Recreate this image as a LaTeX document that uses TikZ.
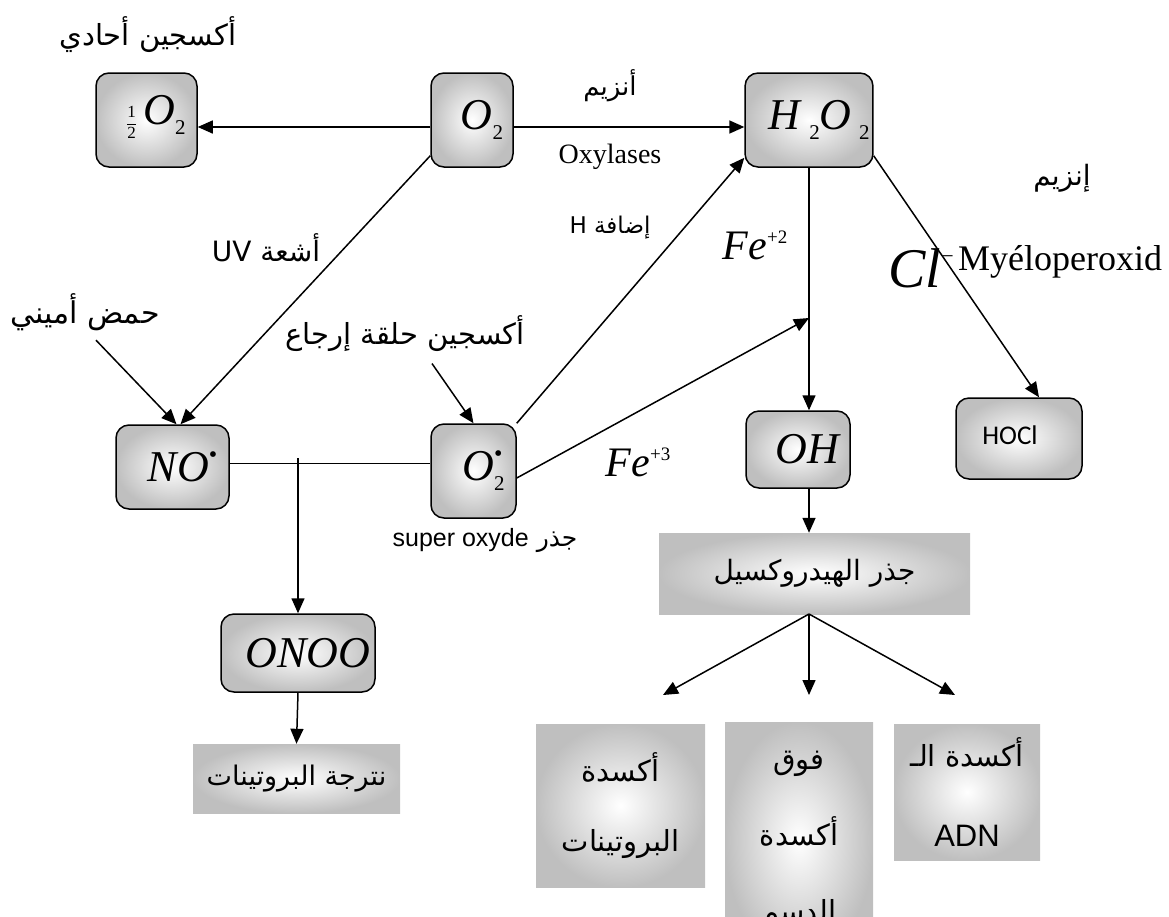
\documentclass[tikz,border=0pt]{standalone}
\usepackage{fontspec}
\setmainfont{Liberation Serif}
\setsansfont{Liberation Sans}
\newfontfamily\arfont[Script=Arabic]{DejaVu Sans}
\newfontfamily\calfont{Carlito}
\TeXXeTstate=1
\usetikzlibrary{arrows.meta}
\newcommand\chsub[1]{\raisebox{-10pt}{\fontsize{21}{21}\selectfont #1}}
\newcommand\chsup[1]{\raisebox{16pt}{\fontsize{19}{19}\selectfont #1}}
\newcommand\chdot{\raisebox{19pt}{\fontsize{24}{24}\selectfont •}}
\newcommand\chhalf{\raisebox{-4pt}{\fontsize{17}{19}\selectfont\begin{tabular}{@{}c@{}}1\\[1pt]\hline\rule{0pt}{14pt}2\end{tabular}}}
\tikzset{
  cbox/.style={draw,line width=1.5pt,rounded corners=13pt,inner color=white,outer color=black!25},
  rbox/.style={cbox,font=\fontsize{44}{44}\selectfont,execute at begin node=\hspace*{20pt}},
  sbox/.style={inner color=white,outer color=black!25,align=center},
  arr/.style={line width=1.5pt,-{Triangle[length=15pt,width=13pt]}},
  link/.style={line width=1pt},
  ar/.style={font=\arfont\fontsize{28}{30}\selectfont},
}

\begin{document}
\begin{tikzpicture}[x=1pt,y=-1pt]
  \useasboundingbox (0,0) rectangle (1169,916);

  \draw (146.5,120) node[rbox,minimum width=101pt,minimum height=94pt] (half) {\chhalf\,\textit{O}\chsub{2}};
  \draw (472,120) node[rbox,minimum width=82pt,minimum height=94pt] (o) {\textit{O}\chsub{2}};
  \draw (809,120) node[rbox,minimum width=124pt,minimum height=94pt] (hp) {\textit{H}\,\chsub{2}\textit{O}\,\chsub{2}};
  \draw (172.5,467) node[rbox,minimum width=113pt,minimum height=84pt] (no) {\textit{NO}\chdot};
  \draw (473.5,471) node[rbox,minimum width=85pt,minimum height=94pt] (os) {\textit{O}\rlap{\chdot}\chsub{2}};
  \draw (798,449.5) node[rbox,minimum width=104pt,minimum height=77pt] (oh) {\textit{OH}};
  \draw (1019,438.5) node[cbox,minimum width=126pt,minimum height=81pt,font=\calfont\fontsize{27}{27}\selectfont,execute at begin node=\hspace*{-18pt}] (hocl) {\raisebox{6pt}{HOCl}};
  \draw (298,653) node[rbox,minimum width=154pt,minimum height=78pt] (onoo) {\textit{ONOO}};
  \draw (296.5,778.5) node[sbox,ar,font=\arfont\fontsize{27}{30}\selectfont,minimum width=207pt,minimum height=69pt] (nit) {\beginR نترجة البروتينات\endR};
  \draw (814.5,573.5) node[sbox,ar,minimum width=311pt,minimum height=81pt] (hyd) {\beginR جذر الهيدروكسيل\endR};
  \draw (620.5,805.5) node[sbox,ar,font=\arfont\fontsize{29}{70}\selectfont,minimum width=169pt,minimum height=163pt] (ox1) {\beginR أكسدة\endR\\\beginR البروتينات\endR};
  \draw (799,840) node[sbox,ar,font=\arfont\fontsize{29}{76}\selectfont,minimum width=148pt,minimum height=236pt] (ox2) {\beginR فوق\endR\\\beginR أكسدة\endR\\\beginR الدسم\endR};
  \draw (967,792) node[sbox,ar,font=\arfont\fontsize{29}{66}\selectfont,minimum width=146pt,minimum height=136pt] (ox3) {\beginR أكسدة الـ\endR\\[14pt]{\sffamily\fontsize{31}{31}\selectfont ADN}};

  \draw (148,35) node[ar,font=\arfont\fontsize{29}{30}\selectfont] (single) {\beginR أكسجين أحادي\endR};
  \draw (610,86) node[ar,font=\arfont\fontsize{26}{30}\selectfont] (enz) {\beginR أنزيم\endR};
  \draw (610,157) node[font=\fontsize{28}{28}\selectfont] (oxy) {Oxylases};
  \draw (1062,178) node[ar,font=\arfont\fontsize{28}{30}\selectfont] (enz2) {\beginR إنزيم\endR};
  \draw (1060,262) node[font=\fontsize{36}{36}\selectfont] (mpo) {Myéloperoxid};
  \draw (921,268) node[font=\fontsize{56}{56}\selectfont] (cl) {\textit{Cl}\raisebox{24pt}{\fontsize{22}{22}\selectfont −}};
  \draw (610,228) node[ar,font=\arfont\fontsize{23}{26}\selectfont] (addh) {\beginR إضافة \beginL H\endL\endR};
  \draw (266,248) node[ar] (uv) {\beginR أشعة \beginL UV\endL\endR};
  \draw (755,245) node[font=\fontsize{42}{42}\selectfont] (fe2) {\textit{Fe}\chsup{+2}};
  \draw (638,462) node[font=\fontsize{42}{42}\selectfont] (fe3) {\textit{Fe}\chsup{+3}};
  \draw (85,312) node[ar,font=\arfont\fontsize{30}{32}\selectfont] (amino) {\beginR حمض أميني\endR};
  \draw (405,334) node[ar,font=\arfont\fontsize{29}{30}\selectfont] (ring) {\beginR أكسجين حلقة إرجاع\endR};
  \draw (485,540) node[ar,font=\arfont\fontsize{25}{26}\selectfont] (sup) {\beginR جذر \beginL{\sffamily\fontsize{25}{26}\selectfont super oxyde}\endL\endR};

  \coordinate (j) at (809,318);
  \coordinate (k) at (298,463);
  \coordinate (r) at (809,614);
  \coordinate (d1) at (663,695);
  \coordinate (d2) at (809,695);
  \coordinate (d3) at (955,695);

  \draw[arr] ([yshift=-7pt]o.west) -- ([yshift=-7pt]half.east);
  \draw[arr] ([yshift=-7pt]o.east) -- ([yshift=-7pt]hp.west);
  \draw[arr] ([yshift=12pt]o.south west) -- ([xshift=8pt]no.north);
  \draw[arr] ([xshift=11pt,yshift=-6pt]amino.south) -- ([xshift=4pt]no.north);
  \draw[arr] ([xshift=27pt,yshift=-8pt]ring.south) -- (os.north);
  \draw[arr] (os.north east) -- ([yshift=10pt]hp.south west);
  \draw[arr] ([yshift=-7pt]os.east) -- (j);
  \draw[arr] (hp.south) -- (hp.south |- oh.north);
  \draw[arr] ([yshift=12pt]hp.south east) -- ([xshift=20pt]hocl.north);
  \draw[link] (no.east |- k) -- (os.west |- k);
  \draw[arr] ([yshift=5pt]k) -- (onoo.north);
  \draw[arr] (onoo.south) -- (nit.north);
  \draw[arr] (j |- oh.south) -- (j |- hyd.north);
  \draw[arr] (r) -- (d1);
  \draw[arr] (r) -- (d2);
  \draw[arr] (r) -- (d3);
\end{tikzpicture}
\end{document}
